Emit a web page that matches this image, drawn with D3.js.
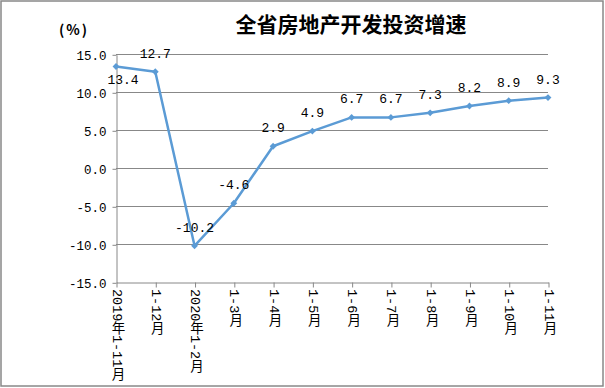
<!DOCTYPE html>
<html lang="zh">
<head>
<meta charset="UTF-8">
<title>全省房地产开发投资增速</title>
<script src="https://cdn.jsdelivr.net/npm/d3@7/dist/d3.min.js"></script>
<style>
  body { margin: 0; background: #fff; }
  svg { display: block; }
</style>
</head>
<body>
<svg id="chart" width="605" height="388"></svg>
<script>
// data
const categories = ['2019年1-11月', '1-12月', '2020年1-2月', '1-3月', '1-4月', '1-5月',
                    '1-6月', '1-7月', '1-8月', '1-9月', '1-10月', '1-11月'];
const growth = [13.4, 12.7, -10.2, -4.6, 2.9, 4.9, 6.7, 6.7, 7.3, 8.2, 8.9, 9.3];
const yTicks = [-15, -10, -5, 0, 5, 10, 15];

const numFont = '"Liberation Mono", "DejaVu Sans Mono", monospace';
const cjkFont = '"Liberation Mono", "Noto Sans CJK SC", sans-serif';
const grey = '#888';
const blue = '#5b9bd5';

const svg = d3.select('#chart');

// outer frame
svg.append('rect')
  .attr('x', 1).attr('y', 1).attr('width', 602).attr('height', 385)
  .attr('fill', '#fff').attr('stroke', grey).attr('stroke-width', 1.5);

const x = d3.scalePoint().domain(categories).range([116, 548]);
const y = d3.scaleLinear().domain([-15, 15]).range([282.3, 54.3]);

// title + unit
svg.append('text')
  .attr('x', 351).attr('y', 32)
  .attr('text-anchor', 'middle')
  .attr('font-family', '"Noto Sans CJK SC", sans-serif')
  .attr('font-weight', 'bold')
  .attr('font-size', 21)
  .text('全省房地产开发投资增速');

svg.append('text')
  .attr('x', 74).attr('y', 35)
  .attr('text-anchor', 'middle')
  .attr('font-family', '"Noto Sans CJK SC", sans-serif')
  .attr('font-weight', 'bold')
  .attr('font-size', 14)
  .attr('letter-spacing', 2)
  .text('(%)');

// horizontal grid
svg.append('g')
  .selectAll('line')
  .data(yTicks.filter(d => d !== -15))
  .join('line')
  .attr('x1', 116).attr('x2', 548)
  .attr('y1', d => Math.round(y(d)) + 0.5)
  .attr('y2', d => Math.round(y(d)) + 0.5)
  .attr('stroke', grey).attr('stroke-width', 1);

// y axis
const yAxis = svg.append('g')
  .attr('transform', 'translate(116.5,0.5)')
  .call(d3.axisLeft(y).tickValues(yTicks).tickSize(4).tickPadding(6)
    .tickFormat(d3.format('.1f')).tickSizeOuter(0));
yAxis.select('.domain').attr('stroke', grey);
yAxis.selectAll('.tick line').attr('stroke', grey);
yAxis.selectAll('.tick text')
  .attr('font-family', numFont).attr('font-size', 12.5).attr('fill', '#000')
  .attr('dy', '0.36em')
  .text(d => d3.format('.1f')(d).replace('−', '-'));

// x axis at the bottom
const xAxis = svg.append('g')
  .attr('transform', `translate(0.5,${Math.round(y(-15)) + 0.5})`)
  .call(d3.axisBottom(x).tickSize(5).tickSizeOuter(0));
xAxis.select('.domain').attr('stroke', grey);
xAxis.selectAll('.tick line').attr('stroke', grey);
xAxis.selectAll('.tick text').remove();

// vertical category labels
svg.append('g')
  .selectAll('text')
  .data(categories)
  .join('text')
  .attr('x', d => x(d))
  .attr('y', 289)
  .attr('font-family', cjkFont)
  .attr('font-size', 13.5)
  .style('writing-mode', 'vertical-rl')
  .style('text-orientation', 'mixed')
  .text(d => d);

// line
const pts = categories.map((c, i) => [x(c), y(growth[i])]);
svg.append('path')
  .datum(pts)
  .attr('d', d3.line())
  .attr('fill', 'none')
  .attr('stroke', blue)
  .attr('stroke-width', 2.5)
  .attr('stroke-linejoin', 'round');

// diamond markers
svg.append('g')
  .selectAll('path')
  .data(pts)
  .join('path')
  .attr('transform', d => `translate(${d[0]},${d[1]})`)
  .attr('d', d3.symbol(d3.symbolDiamond2, 30))
  .attr('fill', blue);

// value labels
svg.append('g')
  .selectAll('text')
  .data(growth)
  .join('text')
  .attr('x', (d, i) => x(categories[i]) + (i === 0 ? 7 : 0))
  .attr('y', (d, i) => y(d) + (i === 0 ? 18 : -14))
  .attr('text-anchor', 'middle')
  .attr('font-family', numFont)
  .attr('font-size', 13)
  .text(d => d.toFixed(1));
</script>
</body>
</html>
